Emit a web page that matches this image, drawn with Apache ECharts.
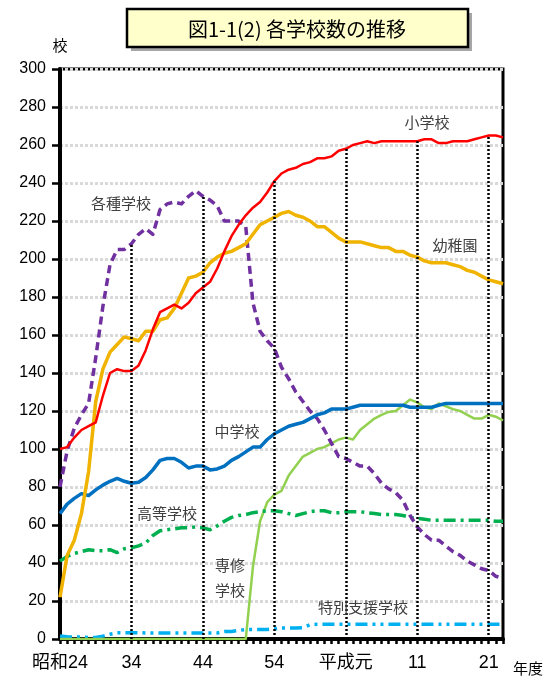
<!DOCTYPE html>
<html>
<head>
<meta charset="utf-8">
<script src="https://cdn.jsdelivr.net/npm/echarts@6/dist/echarts.min.js"></script>
<style>
html,body{margin:0;padding:0;background:#fff}
#chart{width:547px;height:678px}
</style>
</head>
<body>
<div id="chart"></div>
<script>
// 年度 (昭和24 = 1949 … 平成23 = 2011)
const years = [1949,1950,1951,1952,1953,1954,1955,1956,1957,1958,
  1959,1960,1961,1962,1963,1964,1965,1966,1967,1968,
  1969,1970,1971,1972,1973,1974,1975,1976,1977,1978,
  1979,1980,1981,1982,1983,1984,1985,1986,1987,1988,
  1989,1990,1991,1992,1993,1994,1995,1996,1997,1998,
  1999,2000,2001,2002,2003,2004,2005,2006,2007,2008,
  2009,2010,2011];

// 学校数
const elementary = [100,101,106,110,112,114,128,140,142,141,
  141,144,152,163,172,174,176,174,177,182,
  185,188,195,204,212,218,223,227,230,235,
  241,245,247,248,250,251,253,253,254,257,
  258,260,261,262,261,262,262,262,262,262,
  262,263,263,261,261,262,262,262,263,264,
  265,265,264];
const kindergarten = [22,44,52,66,88,125,142,151,155,159,
  158,157,162,162,168,169,174,182,190,191,
  193,198,201,203,204,206,208,213,218,220,
  222,224,225,223,222,220,217,217,214,211,
  209,209,209,208,207,206,206,204,204,202,
  201,199,198,198,198,197,196,194,193,191,
  189,188,187];
const juniorHigh = [66,71,74,76.5,75.5,78.5,81,83,84.5,83,
  82,82.5,85,89,94,95,95,93,90,91,
  91,89,89.5,91,94,96,98.5,101,101,105,
  108,110,112,113,114,116,118,119,121,121,
  121,122,123,123,123,123,123,123,123,122,
  122,122,122,123,124,124,124,124,124,124,
  124,124,124];
const miscSchool = [80,99,111,118,124,148,175,197,205,205,
  208,213,216,213,226,229,230,229,233,236,
  233,231,228,220,220,220,217,177,162,157,
  153,143,137,130,125,120,116,110,103,96,
  95,93,91,91,87,82,79,77,73,65,
  59,55,52,52,49,46,44,41,39,37,
  36,33,32];
const highSchool = [41,43.5,45,46,47,46.5,46.5,47,45.5,47.5,
  48,49,50.5,54.5,57,57.5,58,58.5,58.5,59,
  58.5,57.5,59.5,62,64,65,65.5,66.5,67,67.5,
  67.5,67,66,65,66,67,67.5,67.5,66.5,66.5,
  67,67,67,66.5,66,65.5,65.5,65.5,65,64,
  63.5,63,62.5,62.5,62.5,62.5,62.5,62.5,62.5,62.5,
  62.5,62,62];
const vocational = [0,0,0,0,0,0,0,0,0,0,
  0,0,0,0,0,0,0,0,0,0,
  0,0,0,0,0,0,0,38,62,72,
  76,78,86,91,96,98,100,101,103,105,
  106,105,110,113,116,118,119.5,120,123,126,
  124.5,122,121,124,122.5,121,120,118,116,116,
  118,117,115];
const specialNeeds = [1.6,1.2,1,1,0.8,0.8,1.5,2.5,3.3,3.3,
  3.3,3.3,3.2,3.2,3.2,3.2,3.2,3.2,3.2,3.2,
  3.2,3.2,3.2,4,4,4.5,5,5,5,5,
  5.3,5.8,5.8,5.8,6,7.5,7.8,7.8,7.8,7.8,
  7.8,7.8,7.8,7.8,7.8,7.8,7.8,7.8,7.8,7.8,
  7.8,7.8,7.8,7.8,7.8,7.8,7.8,7.8,7.8,7.8,
  7.8,7.8,7.8];

// 目盛ラベルと縦の区切り線を引く年度
const tickYears = [1949, 1959, 1969, 1979, 1989, 1999, 2009];
const tickLabels = ['昭和24', '34', '44', '54', '平成元', '11', '21'];
const dropYears = [1959, 1969, 1979, 1989, 1999, 2009];

const allSeries = [elementary, kindergarten, juniorHigh, miscSchool, highSchool, vocational, specialNeeds];
const pairs = arr => years.map((y, i) => [y, arr[i]]);

// 各区切り年度の最大値から横軸まで下ろす点線
const dropLines = dropYears.map(y => {
  const i = years.indexOf(y);
  const top = Math.max(...allSeries.map(s => s[i]));
  return [{ coord: [y, 0] }, { coord: [y, top] }];
});

const numFont = "'Liberation Sans','Noto Sans CJK JP',sans-serif";
const jpFont = "'Noto Sans CJK JP',sans-serif";

const lineSeries = (name, data, color, width, type) => ({
  name, type: 'line', data: pairs(data), showSymbol: false, symbol: 'none',
  lineStyle: { color, width, type: type || 'solid', cap: 'butt', join: 'round' },
  z: 3, animation: false
});

const chart = echarts.init(document.getElementById('chart'), null, { renderer: 'canvas' });
chart.setOption({
  backgroundColor: '#fff',
  animation: false,
  grid: { left: 60, right: 44, top: 69, bottom: 39, show: true, borderColor: '#000', borderWidth: 3, backgroundColor: '#fff' },
  xAxis: {
    type: 'value', min: 1949, max: 2011, interval: 1,
    axisLine: { show: true, lineStyle: { color: '#000', width: 4 } },
    axisTick: { show: true, length: 5, inside: false, lineStyle: { color: '#000', width: 2.5 } },
    splitLine: { show: false },
    axisLabel: {
      margin: 15, color: '#000', fontSize: 18, fontFamily: numFont,
      showMinLabel: true, showMaxLabel: true,
      formatter: v => { const k = tickYears.indexOf(v); return k >= 0 ? tickLabels[k] : ''; }
    }
  },
  yAxis: {
    type: 'value', min: 0, max: 300, interval: 20,
    name: '校', nameLocation: 'end', nameGap: 16,
    nameTextStyle: { color: '#000', fontSize: 15, fontFamily: jpFont, align: 'center' },
    axisLine: { show: true, lineStyle: { color: '#000', width: 4 } },
    axisTick: { show: true, length: 8, inside: false, lineStyle: { color: '#000', width: 2.5 } },
    axisLabel: { margin: 14, color: '#000', fontSize: 16, fontFamily: numFont },
    splitLine: { show: true, lineStyle: { color: '#d9d9d9', width: 3, type: [3, 2] } }
  },
  series: [
    {
      type: 'line', data: [], silent: true, z: 2,
      markLine: {
        symbol: ['none', 'none'], silent: true, animation: false,
        label: { show: false },
        lineStyle: { color: '#000', width: 2.5, type: [2, 2] },
        data: dropLines
      }
    },
    lineSeries('特別支援学校', specialNeeds, '#00b0f0', 3.5, [12, 5, 3, 5, 3, 5]),
    lineSeries('専修学校', vocational, '#92d050', 2.5),
    lineSeries('高等学校', highSchool, '#00b050', 3.5, [12, 5, 3, 5]),
    lineSeries('各種学校', miscSchool, '#7030a0', 3.5, [8, 5]),
    lineSeries('中学校', juniorHigh, '#0070c0', 3.5),
    lineSeries('幼稚園', kindergarten, '#f0b400', 3.5),
    lineSeries('小学校', elementary, '#ff0000', 2.5)
  ],
  graphic: [
    // 表題枠
    { type: 'rect', shape: { x: 131, y: 13, width: 341, height: 38 }, style: { fill: '#a6a6a6' }, z: 10 },
    { type: 'rect', shape: { x: 127, y: 9, width: 341, height: 38 }, style: { fill: '#ffffcc', stroke: '#000', lineWidth: 2.5 }, z: 11 },
    { type: 'text', x: 297, y: 29, style: { text: '図1-1(2) 各学校数の推移', font: "20px 'Noto Sans CJK JP'", fill: '#000', align: 'center', verticalAlign: 'middle' }, z: 12 },
    // 系列名
    ...[
      ['小学校', 427, 122], ['幼稚園', 455, 245], ['各種学校', 121, 203],
      ['中学校', 237, 431], ['高等学校', 167, 513], ['専修', 230, 565],
      ['学校', 230, 590], ['特別支援学校', 363, 607]
    ].map(([t, x, y]) => ({
      type: 'text', x, y, z: 12,
      style: { text: t, font: "15px 'Noto Sans CJK JP'", fill: '#404040', align: 'center', verticalAlign: 'middle' }
    })),
    { type: 'text', x: 528, y: 668, z: 12, style: { text: '年度', font: "15px 'Noto Sans CJK JP'", fill: '#000', align: 'center', verticalAlign: 'middle' } }
  ]
});
</script>
</body>
</html>
